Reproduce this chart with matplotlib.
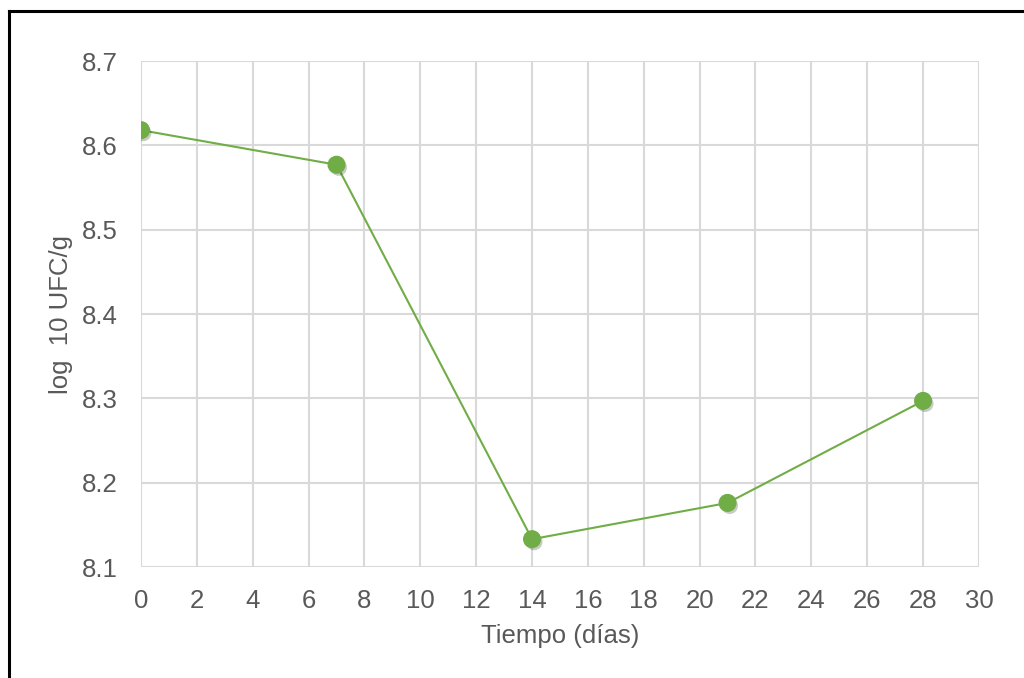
import matplotlib.pyplot as plt
import matplotlib.patheffects as pe
from matplotlib.lines import Line2D

dias = [0, 7, 14, 21, 28]
log_ufc = [8.618, 8.577, 8.133, 8.176, 8.297]
xticks = list(range(0, 31, 2))
yticks = [8.1, 8.2, 8.3, 8.4, 8.5, 8.6, 8.7]

plt.rcParams['font.family'] = ['Liberation Sans', 'DejaVu Sans']
gris = '#595959'
verde = '#70AD47'

fig = plt.figure(figsize=(10.24, 6.78), dpi=100)
ax = fig.add_axes([0.1377, 0.1637, 0.8183, 0.7463])

ax.plot(dias, log_ufc, color=verde, lw=1.5, zorder=3)
ax.plot(dias, log_ufc, 'o', color=verde, ms=12, mec=verde, zorder=4,
        path_effects=[pe.SimplePatchShadow(offset=(1.5, -2), alpha=0.25), pe.Normal()])

ax.set_xlim(0, 30)
ax.set_ylim(8.1, 8.7)
ax.set_xticks(xticks)
ax.set_yticks(yticks)
ax.set_yticklabels([f'{v:.1f}' for v in yticks])
ax.grid(True, color='#d9d9d9', lw=1.5)
ax.set_axisbelow(True)
for s in ax.spines.values():
    s.set_visible(False)
ax.tick_params(axis='y', length=0, labelsize=18.5, colors=gris, pad=17)
ax.tick_params(axis='x', length=0, labelsize=18.5, colors=gris, pad=16)
ax.set_xlabel('Tiempo (días)', fontsize=18.5, color=gris, labelpad=8)
ax.set_ylabel('log  10 UFC/g', fontsize=18.5, color=gris, labelpad=6)

# marco exterior (solo izquierda y arriba)
fig.add_artist(Line2D([0.0088, 0.0088], [0, 0.9845], color='black', lw=2.2, transform=fig.transFigure))
fig.add_artist(Line2D([0.0088, 1.0], [0.9845, 0.9845], color='black', lw=2.2, transform=fig.transFigure))

fig.savefig('out.png', dpi=100)
